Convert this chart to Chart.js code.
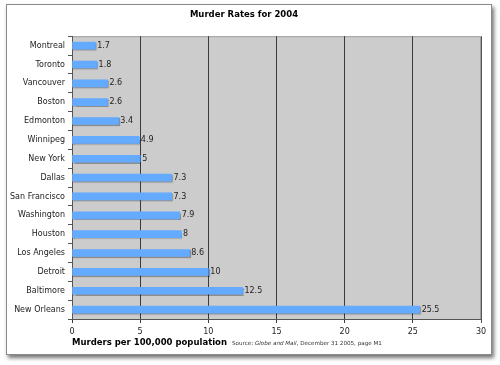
<!DOCTYPE html>
<html>
<head>
<meta charset="utf-8">
<script src="https://cdn.jsdelivr.net/npm/chart.js@4/dist/chart.umd.min.js"></script>
<style>
  html, body { margin: 0; padding: 0; background: #fff; }
  #frame {
    position: absolute; left: 6px; top: 4px;
    width: 484px; height: 349px;
    border: 1px solid #8a8a8a;
    box-shadow: 2px 3px 4px rgba(0, 0, 0, 0.55);
    background: #fff;
  }
  canvas { display: block; }
</style>
</head>
<body>
<div id="frame"><canvas id="murderChart" width="484" height="349"></canvas></div>
<script>
// Murder rates per 100,000 population, 2004
const cities = ['Montreal', 'Toronto', 'Vancouver', 'Boston', 'Edmonton', 'Winnipeg', 'New York',
    'Dallas', 'San Francisco', 'Washington', 'Houston', 'Los Angeles', 'Detroit', 'Baltimore', 'New Orleans'];
const rates = [1.7, 1.8, 2.6, 2.6, 3.4, 4.9, 5, 7.3, 7.3, 7.9, 8, 8.6, 10, 12.5, 25.5];
const xTicks = [0, 5, 10, 15, 20, 25, 30];

const labelFont = '8px "DejaVu Sans", sans-serif';

// gray plot background + white canvas
const backgroundPlugin = {
    id: 'background',
    beforeDraw(chart) {
        const { ctx, chartArea: a } = chart;
        ctx.save();
        ctx.fillStyle = '#ffffff';
        ctx.fillRect(0, 0, chart.width, chart.height);
        ctx.fillStyle = '#cccccc';
        ctx.fillRect(a.left, a.top, a.right - a.left, a.bottom - a.top);
        ctx.strokeStyle = '#a0a0a0';
        ctx.lineWidth = 1;
        ctx.beginPath();
        ctx.moveTo(a.left, a.top + 0.5);
        ctx.lineTo(a.right - 0.5, a.top + 0.5);
        ctx.lineTo(a.right - 0.5, a.bottom);
        ctx.stroke();
        ctx.restore();
    }
};

// soft shadow under the bars
const barShadowPlugin = {
    id: 'barShadow',
    beforeDatasetsDraw(chart) {
        const ctx = chart.ctx;
        ctx.save();
        ctx.shadowColor = 'rgba(0, 0, 0, 0.3)';
        ctx.shadowOffsetX = 1;
        ctx.shadowOffsetY = 1;
        ctx.shadowBlur = 1;
    },
    afterDatasetsDraw(chart) {
        chart.ctx.restore();
    }
};

// value labels at the end of each bar, axis title and source line
const labelsPlugin = {
    id: 'valueLabels',
    afterDraw(chart) {
        const { ctx, chartArea: a } = chart;
        const meta = chart.getDatasetMeta(0);
        ctx.save();
        ctx.font = labelFont;
        ctx.fillStyle = '#222';
        ctx.textAlign = 'left';
        ctx.textBaseline = 'middle';
        meta.data.forEach((bar, i) => {
            ctx.fillText(String(rates[i]), bar.x + 2, bar.y);
        });

        const y = a.bottom + 24;
        ctx.font = 'bold 8.5px "DejaVu Sans", sans-serif';
        ctx.fillStyle = '#000';
        const title = 'Murders per 100,000 population';
        ctx.fillText(title, a.left, y);
        let x = a.left + ctx.measureText(title).width + 5;

        const parts = [
            ['Source: ', 'normal'],
            ['Globe and Mail', 'italic'],
            [', December 31 2005, page M1', 'normal']
        ];
        ctx.fillStyle = '#333';
        parts.forEach(([txt, style]) => {
            ctx.font = style + ' 5.6px "DejaVu Sans", sans-serif';
            ctx.fillText(txt, x, y + 1);
            x += ctx.measureText(txt).width;
        });
        ctx.restore();
    }
};

new Chart(document.getElementById('murderChart'), {
    type: 'bar',
    data: {
        labels: cities,
        datasets: [{
            data: rates,
            backgroundColor: '#64aaff',
            borderWidth: 0,
            barThickness: 7
        }]
    },
    options: {
        indexAxis: 'y',
        responsive: false,
        animation: false,
        layout: { padding: { left: 0, right: 10, top: 0, bottom: 0 } },
        plugins: {
            legend: { display: false },
            tooltip: { enabled: false },
            title: {
                display: true,
                text: 'Murder Rates for 2004',
                color: '#000',
                font: { family: 'DejaVu Sans', size: 8.5, weight: 'bold' },
                padding: { top: 5, bottom: 16 }
            }
        },
        scales: {
            x: {
                min: xTicks[0],
                max: xTicks[xTicks.length - 1],
                afterBuildTicks: scale => { scale.ticks = xTicks.map(v => ({ value: v })); },
                afterFit: scale => { scale.height = 35; },
                grid: {
                    drawOnChartArea: true,
                    drawTicks: true,
                    tickLength: 4,
                    color: ctx => (ctx.tick && ctx.tick.value === 30) ? '#555' : '#3a3a3a',
                    lineWidth: 1
                },
                border: { display: true, color: '#555' },
                ticks: {
                    color: '#222',
                    padding: 4,
                    font: { family: 'DejaVu Sans', size: 8 }
                }
            },
            y: {
                afterFit: scale => { scale.width = 65; },
                grid: {
                    offset: true,
                    drawOnChartArea: false,
                    drawTicks: true,
                    tickLength: 4,
                    color: '#555'
                },
                border: { display: true, color: '#555' },
                ticks: {
                    color: '#222',
                    padding: 3,
                    font: { family: 'DejaVu Sans', size: 8 }
                }
            }
        }
    },
    plugins: [backgroundPlugin, barShadowPlugin, labelsPlugin]
});
</script>
</body>
</html>
